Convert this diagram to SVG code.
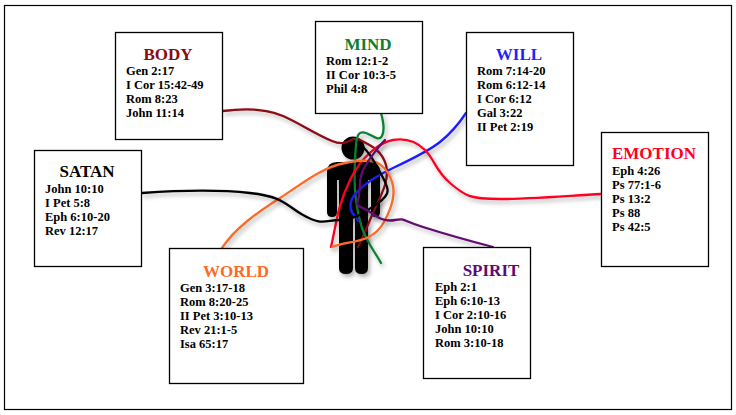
<svg xmlns="http://www.w3.org/2000/svg" width="736" height="415" viewBox="0 0 736 415">
<style>
text{font-family:"Liberation Serif",serif;font-weight:700}
.box{fill:#fff;stroke:#000;stroke-width:1.3}
.h{font-size:17px;text-anchor:middle}
.v{font-size:12.5px;fill:#000}
.c{fill:none;stroke-width:2.3;stroke-linecap:round;stroke-linejoin:round;filter:url(#sh)}
</style>
<defs><filter id="sh" x="-20%" y="-20%" width="140%" height="140%"><feDropShadow dx="2" dy="3" stdDeviation="2" flood-color="#000" flood-opacity=".3"/></filter></defs>
<rect width="736" height="415" fill="#fff"/>
<rect x="4.5" y="5.5" width="727" height="404" fill="none" stroke="#000" stroke-width="1.2"/>
<g id="figure" filter="url(#sh)">
<circle cx="353" cy="148" r="11.5"/>
<path d="M337 162H370Q380 162 380 172V212Q380 217 375.500 217Q371 217 371 212V180H368V268Q368 274 361.500 274Q355 274 355 268V217H353V268Q353 274 346 274Q339 274 339 268V180H337V212Q337 217 332 217Q327 217 327 212V172Q327 162 337 162Z"/>
</g>
<g id="connectors">
<path class="c" stroke="#8b0a12" d="M223 111C245 108 265 108 283 116S315 134 332 141S350 135 360 140S382 150 386 165S381 195 373 213S362 240 358 247"/>
<path class="c" stroke="#0a8030" d="M381 113C383 120 385 130 382 136S372 135 366 133S357 133 356 145S354 175 355 190S358 215 362 228S375 252 381 263"/>
<path class="c" stroke="#1f1fff" d="M466 113C458 125 450 134 440 142S410 160 393 168S365 183 356 193S351 212 354 215S357 219 358 221"/>
<path class="c" stroke="#ff0022" d="M601 194C565 196 530 199 500 199S465 196 450 183S435 160 425 150S405 138 393 140S362 155 350 180S337 220 331 247"/>
<path class="c" stroke="#ff6a28" d="M222 248C235 228 258 212 280 198S320 168 345 163S380 160 388 173S396 200 384 222S350 240 332 247"/>
<path class="c" stroke="#000" d="M142 193C170 191 215 189 250 193S285 205 303 215S323 221 340 220S365 212 378 203S390 190 380 172S368 152 363 147"/>
<path class="c" stroke="#5f0a6e" d="M493 247C470 241 445 234 423 227S405 218 395 220S378 218 370 212S355 208 358 200S358 180 363 170S380 145 385 140"/>
</g>
<g id="body"><rect class="box" x="115.500" y="32.500" width="107" height="107"/><text class="h" x="168" y="60" fill="#8b0a12">BODY</text><text class="v" x="126" y="75">Gen 2:17</text><text class="v" x="126" y="89">I Cor 15:42-49</text><text class="v" x="126" y="103">Rom 8:23</text><text class="v" x="126" y="117">John 11:14</text></g>
<g id="mind"><rect class="box" x="315.500" y="21.500" width="107" height="92"/><text class="h" x="368" y="50" fill="#0a8030">MIND</text><text class="v" x="326" y="65">Rom 12:1-2</text><text class="v" x="326" y="79">II Cor 10:3-5</text><text class="v" x="326" y="93">Phil 4:8</text></g>
<g id="will"><rect class="box" x="466.500" y="32.500" width="107" height="133"/><text class="h" x="519" y="60" fill="#1f1fff">WILL</text><text class="v" x="477" y="75">Rom 7:14-20</text><text class="v" x="477" y="89">Rom 6:12-14</text><text class="v" x="477" y="103">I Cor 6:12</text><text class="v" x="477" y="117">Gal 3:22</text><text class="v" x="477" y="131">II Pet 2:19</text></g>
<g id="satan"><rect class="box" x="34.500" y="150.500" width="107" height="116"/><text class="h" x="87" y="177" fill="#000">SATAN</text><text class="v" x="45" y="193">John 10:10</text><text class="v" x="45" y="207">I Pet 5:8</text><text class="v" x="45" y="221">Eph 6:10-20</text><text class="v" x="45" y="235">Rev 12:17</text></g>
<g id="emotion"><rect class="box" x="601.500" y="132.500" width="107" height="134"/><text class="h" x="654" y="159" fill="#ff0022">EMOTION</text><text class="v" x="612" y="175">Eph 4:26</text><text class="v" x="612" y="189">Ps 77:1-6</text><text class="v" x="612" y="203">Ps 13:2</text><text class="v" x="612" y="217">Ps 88</text><text class="v" x="612" y="231">Ps 42:5</text></g>
<g id="world"><rect class="box" x="169.500" y="248.500" width="134" height="135"/><text class="h" x="236" y="277" fill="#ff6a28">WORLD</text><text class="v" x="180" y="292">Gen 3:17-18</text><text class="v" x="180" y="306">Rom 8:20-25</text><text class="v" x="180" y="320">II Pet 3:10-13</text><text class="v" x="180" y="334">Rev 21:1-5</text><text class="v" x="180" y="348">Isa 65:17</text></g>
<g id="spirit"><rect class="box" x="423.500" y="247.500" width="107" height="131"/><text class="h" x="491" y="276" fill="#5f0a6e">SPIRIT</text><text class="v" x="435" y="291">Eph 2:1</text><text class="v" x="435" y="305">Eph 6:10-13</text><text class="v" x="435" y="319">I Cor 2:10-16</text><text class="v" x="435" y="333">John 10:10</text><text class="v" x="435" y="347">Rom 3:10-18</text></g>
</svg>
